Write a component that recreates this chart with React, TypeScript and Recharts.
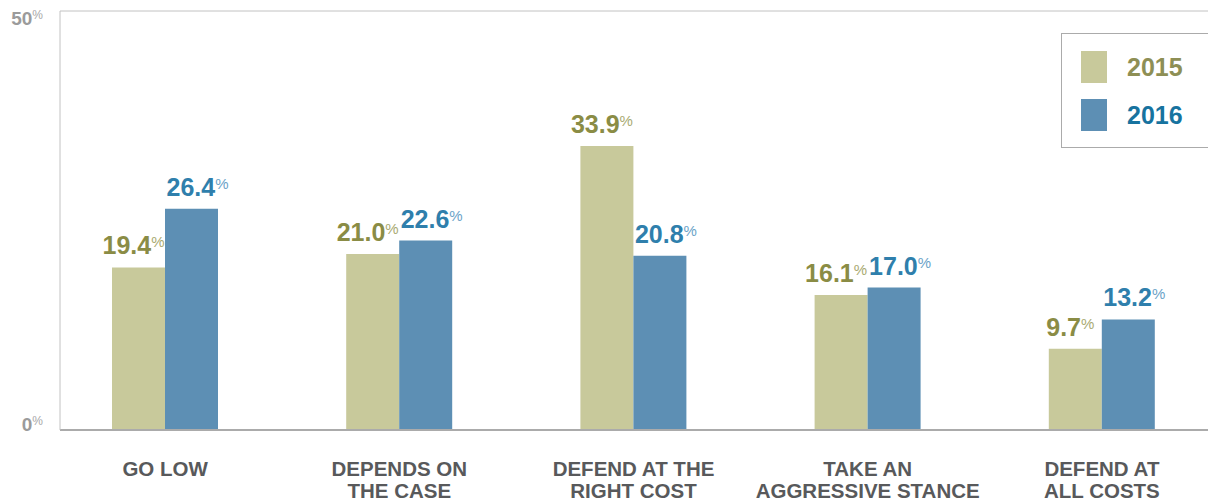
import { Bar, BarChart, CartesianGrid, LabelList, Legend, XAxis, YAxis } from "recharts";

const categories = [
  "GO LOW",
  "DEPENDS ON\nTHE CASE",
  "DEFEND AT THE\nRIGHT COST",
  "TAKE AN\nAGGRESSIVE STANCE",
  "DEFEND AT\nALL COSTS",
];
const values2015 = [19.4, 21.0, 33.9, 16.1, 9.7];
const values2016 = [26.4, 22.6, 20.8, 17.0, 13.2];
const yTicks = [0, 50];

const data = categories.map((name, i) => ({ name, y2015: values2015[i], y2016: values2016[i] }));

const FONT = "'Liberation Sans', Arial, sans-serif";

const series = [
  { key: "y2015", label: "2015", bar: "#c8c99b", text: "#8a8c45", pct: "#a9aa72", legend: "#8e8f55", shift: -5 },
  { key: "y2016", label: "2016", bar: "#5d8fb4", text: "#2f7fac", pct: "#6ba3c8", legend: "#17739f", shift: 6 },
];

function valueLabel(color: string, pctColor: string, shift: number) {
  return (props: any) => {
    const { x, y, width, value } = props;
    return (
      <text x={Number(x) + Number(width) / 2 + shift} y={Number(y) - 13} textAnchor="middle" fontFamily={FONT}>
        <tspan fontSize={25} fontWeight={700} fill={color}>{Number(value).toFixed(1)}</tspan>
        <tspan fontSize={15} fill={pctColor} dy={-7}>%</tspan>
      </text>
    );
  };
}

function YTick(props: any) {
  const { y, payload } = props;
  const dy = payload.value === 0 ? 1 : 14;
  return (
    <text x={43} y={Number(y) + dy} textAnchor="end" fontFamily={FONT}>
      <tspan fontSize={19} fontWeight={700} fill="#9b9b9b">{payload.value}</tspan>
      <tspan fontSize={12} fill="#a8a8a8" dy={-6}>%</tspan>
    </text>
  );
}

function XTick(props: any) {
  const { x, y, payload } = props;
  const lines = String(payload.value).split("\n");
  return (
    <text x={x} y={Number(y) + 46} textAnchor="middle" fontFamily={FONT} fontSize={20.5} fontWeight={700} fill="#58595b">
      {lines.map((line, i) => (
        <tspan key={line} x={x} dy={i === 0 ? 0 : 21.5}>{line}</tspan>
      ))}
    </text>
  );
}

function LegendBox() {
  return (
    <div style={{ border: "1px solid #ababab", width: 170, height: 113, position: "relative", fontFamily: FONT, background: "#fff" }}>
      {series.map((s, i) => (
        <div key={s.key} style={{ position: "absolute", left: 19, top: 17 + i * 48, display: "flex", alignItems: "center" }}>
          <div style={{ width: 26, height: 32, background: s.bar }} />
          <span style={{ marginLeft: 20, fontSize: 25, fontWeight: 700, color: s.legend }}>{s.label}</span>
        </div>
      ))}
    </div>
  );
}

export default function App() {
  return (
    <div style={{ position: "absolute", left: 0, top: 0, width: 1208, height: 504, overflow: "hidden", background: "#fff" }}>
      <BarChart width={1208} height={504} data={data} margin={{ top: 11, right: 0, bottom: 0, left: 0 }} barGap={0}>
        <CartesianGrid stroke="#c2c2c2" vertical={false} />
        <XAxis
          dataKey="name"
          height={74}
          tick={<XTick />}
          tickLine={false}
          tickSize={0}
          tickMargin={0}
          interval={0}
          padding={{ left: -12, right: -11 }}
          axisLine={{ stroke: "#ababab", strokeWidth: 2 }}
        />
        <YAxis
          width={60}
          domain={[0, 50]}
          ticks={yTicks}
          tick={<YTick />}
          tickLine={false}
          axisLine={{ stroke: "#c2c2c2" }}
        />
        <Legend layout="horizontal" verticalAlign="middle" align="center" content={<LegendBox />} wrapperStyle={{ position: "absolute", left: 1061, top: 33, width: 170 }} />
        {series.map((s) => (
          <Bar key={s.key} dataKey={s.key} name={s.label} fill={s.bar} barSize={53} isAnimationActive={false}>
            <LabelList dataKey={s.key} content={valueLabel(s.text, s.pct, s.shift)} />
          </Bar>
        ))}
      </BarChart>
    </div>
  );
}
